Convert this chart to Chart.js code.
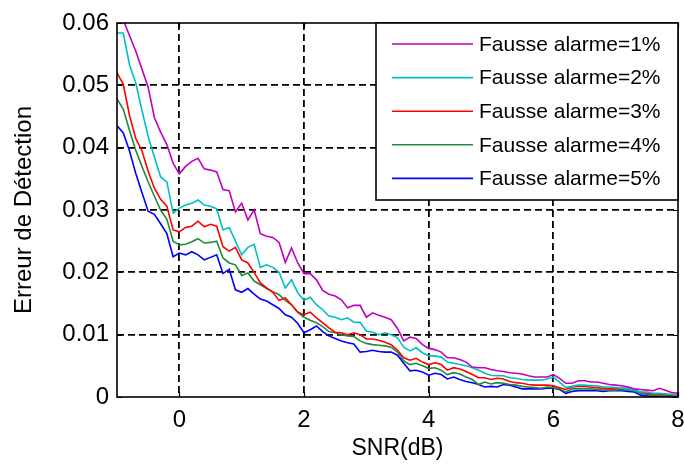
<!DOCTYPE html>
<html>
<head>
<meta charset="utf-8">
<script src="https://cdn.jsdelivr.net/npm/chart.js@4.4.1/dist/chart.umd.min.js"></script>
<style>
  html, body { margin: 0; padding: 0; background: #ffffff; }
  canvas { display: block; }
</style>
</head>
<body>
<canvas id="c" width="684" height="468"></canvas>
<script>
// ---- data ----
const snr = [
  -1.0,-0.9,-0.8,-0.7,-0.6,-0.5,-0.4,-0.3,-0.2,-0.1,
   0.0, 0.1, 0.2, 0.3, 0.4, 0.5, 0.6, 0.7, 0.8, 0.9,
   1.0, 1.1, 1.2, 1.3, 1.4, 1.5, 1.6, 1.7, 1.8, 1.9,
   2.0, 2.1, 2.2, 2.3, 2.4, 2.5, 2.6, 2.7, 2.8, 2.9,
   3.0, 3.1, 3.2, 3.3, 3.4, 3.5, 3.6, 3.7, 3.8, 3.9,
   4.0, 4.1, 4.2, 4.3, 4.4, 4.5, 4.6, 4.7, 4.8, 4.9,
   5.0, 5.1, 5.2, 5.3, 5.4, 5.5, 5.6, 5.7, 5.8, 5.9,
   6.0, 6.1, 6.2, 6.3, 6.4, 6.5, 6.6, 6.7, 6.8, 6.9,
   7.0, 7.1, 7.2, 7.3, 7.4, 7.5, 7.6, 7.7, 7.8, 7.9,
   8.0
];
const pfa1 = [
  0.0635,0.0605,0.0580,0.0555,0.0526,0.0497,0.0448,0.0425,0.0405,0.0375,
  0.0358,0.0370,0.0378,0.0383,0.0366,0.0364,0.0361,0.0333,0.0331,0.0297,
  0.0311,0.0284,0.0300,0.0262,0.0258,0.0256,0.0248,0.0216,0.0239,0.0215,
  0.0198,0.0198,0.0188,0.0171,0.0165,0.0162,0.0156,0.0143,0.0147,0.0147,
  0.0128,0.0135,0.0131,0.0128,0.0124,0.0110,0.0090,0.0096,0.0094,0.0084,
  0.0078,0.0076,0.0072,0.0063,0.0063,0.0060,0.0056,0.0048,0.0047,0.0047,
  0.0044,0.0042,0.0041,0.0039,0.0038,0.0037,0.0034,0.0032,0.0032,0.0032,
  0.0036,0.0030,0.0022,0.0022,0.0026,0.0026,0.0024,0.0024,0.0022,0.0020,
  0.0019,0.0018,0.0016,0.0013,0.0012,0.0011,0.0010,0.0014,0.0011,0.0007,
  0.0006
];
const pfa2 = [
  0.0584,0.0584,0.0533,0.0504,0.0460,0.0418,0.0385,0.0353,0.0345,0.0295,
  0.0303,0.0308,0.0311,0.0316,0.0308,0.0306,0.0302,0.0268,0.0272,0.0250,
  0.0228,0.0240,0.0245,0.0208,0.0212,0.0208,0.0200,0.0175,0.0188,0.0167,
  0.0155,0.0160,0.0148,0.0140,0.0130,0.0128,0.0124,0.0127,0.0120,0.0120,
  0.0106,0.0104,0.0100,0.0103,0.0100,0.0095,0.0080,0.0074,0.0079,0.0071,
  0.0066,0.0066,0.0064,0.0056,0.0054,0.0052,0.0050,0.0047,0.0043,0.0038,
  0.0035,0.0034,0.0034,0.0031,0.0030,0.0028,0.0027,0.0027,0.0027,0.0029,
  0.0032,0.0024,0.0015,0.0017,0.0019,0.0019,0.0018,0.0018,0.0016,0.0016,
  0.0015,0.0014,0.0013,0.0011,0.0008,0.0008,0.0006,0.0006,0.0005,0.0004,
  0.0003
];
const pfa3 = [
  0.0520,0.0502,0.0452,0.0415,0.0395,0.0362,0.0335,0.0317,0.0306,0.0268,
  0.0265,0.0272,0.0274,0.0282,0.0273,0.0277,0.0274,0.0241,0.0234,0.0240,
  0.0220,0.0215,0.0200,0.0183,0.0175,0.0168,0.0155,0.0159,0.0148,0.0136,
  0.0132,0.0136,0.0127,0.0119,0.0111,0.0104,0.0103,0.0100,0.0103,0.0100,
  0.0093,0.0093,0.0091,0.0088,0.0084,0.0075,0.0063,0.0059,0.0062,0.0056,
  0.0052,0.0055,0.0052,0.0043,0.0047,0.0045,0.0041,0.0036,0.0031,0.0031,
  0.0028,0.0030,0.0029,0.0025,0.0023,0.0022,0.0020,0.0019,0.0019,0.0019,
  0.0018,0.0015,0.0012,0.0016,0.0017,0.0017,0.0016,0.0015,0.0014,0.0013,
  0.0013,0.0014,0.0014,0.0011,0.0008,0.0006,0.0005,0.0005,0.0004,0.0003,
  0.0003
];
const pfa4 = [
  0.0478,0.0462,0.0428,0.0396,0.0370,0.0345,0.0322,0.0300,0.0285,0.0250,
  0.0244,0.0245,0.0249,0.0254,0.0247,0.0248,0.0250,0.0223,0.0215,0.0212,
  0.0195,0.0199,0.0186,0.0180,0.0174,0.0169,0.0164,0.0155,0.0148,0.0136,
  0.0128,0.0123,0.0119,0.0113,0.0105,0.0103,0.0100,0.0098,0.0097,0.0090,
  0.0086,0.0084,0.0083,0.0082,0.0080,0.0072,0.0058,0.0052,0.0054,0.0050,
  0.0046,0.0047,0.0043,0.0036,0.0039,0.0037,0.0032,0.0028,0.0020,0.0024,
  0.0021,0.0023,0.0022,0.0020,0.0019,0.0017,0.0016,0.0015,0.0014,0.0016,
  0.0015,0.0013,0.0008,0.0013,0.0013,0.0013,0.0013,0.0012,0.0011,0.0011,
  0.0011,0.0012,0.0011,0.0010,0.0006,0.0004,0.0003,0.0003,0.0002,0.0002,
  0.0002
];
const pfa5 = [
  0.0435,0.0424,0.0395,0.0359,0.0328,0.0298,0.0293,0.0278,0.0262,0.0225,
  0.0231,0.0228,0.0233,0.0228,0.0220,0.0224,0.0228,0.0198,0.0205,0.0172,
  0.0168,0.0174,0.0165,0.0157,0.0154,0.0148,0.0142,0.0132,0.0128,0.0118,
  0.0103,0.0108,0.0114,0.0105,0.0098,0.0094,0.0090,0.0087,0.0085,0.0072,
  0.0073,0.0075,0.0073,0.0072,0.0072,0.0067,0.0054,0.0042,0.0043,0.0040,
  0.0035,0.0038,0.0036,0.0029,0.0032,0.0028,0.0025,0.0023,0.0020,0.0016,
  0.0017,0.0016,0.0020,0.0019,0.0016,0.0013,0.0013,0.0013,0.0013,0.0014,
  0.0014,0.0012,0.0006,0.0009,0.0010,0.0010,0.0010,0.0010,0.0009,0.0010,
  0.0010,0.0010,0.0009,0.0008,0.0003,0.0002,0.0001,0.0000,0.0000,0.0000,
  0.0000
];
const seriesLabels = ["Fausse alarme=1%","Fausse alarme=2%","Fausse alarme=3%","Fausse alarme=4%","Fausse alarme=5%"];
const xTicks = [0, 2, 4, 6, 8];
const yTicks = [0, 0.01, 0.02, 0.03, 0.04, 0.05, 0.06];
const xTitle = "SNR(dB)";
const yTitle = "Erreur de Détection";

// ---- styling ----
const FAMILY = "'Liberation Sans', Arial, sans-serif";
const colors = ["#c000c0", "#00c0c0", "#ff0000", "#208a40", "#0000ff"];
const allSeries = [pfa1, pfa2, pfa3, pfa4, pfa5];

const datasets = allSeries.map((arr, k) => ({
  label: seriesLabels[k],
  data: snr.map((x, i) => ({ x: x, y: arr[i] })),
  borderColor: colors[k],
  backgroundColor: colors[k],
  borderWidth: 1.6,
  pointRadius: 0,
  tension: 0,
  fill: false
}));

const frameAndLegend = {
  id: 'frameAndLegend',
  afterDatasetsDraw(chart) {
    const ctx = chart.ctx;
    const a = chart.chartArea;
    const xs = chart.scales.x, ys = chart.scales.y;
    ctx.save();
    // box
    ctx.strokeStyle = '#000';
    ctx.lineWidth = 1.6;
    ctx.setLineDash([]);
    ctx.strokeRect(a.left, a.top, a.right - a.left, a.bottom - a.top);
    // inward ticks
    ctx.lineWidth = 1.2;
    const tl = 5;
    ctx.beginPath();
    xTicks.forEach(v => {
      const p = Math.round(xs.getPixelForValue(v)) + 0.5;
      ctx.moveTo(p, a.bottom); ctx.lineTo(p, a.bottom - tl);
      ctx.moveTo(p, a.top); ctx.lineTo(p, a.top + tl);
    });
    yTicks.forEach(v => {
      const p = Math.round(ys.getPixelForValue(v)) + 0.5;
      ctx.moveTo(a.left, p); ctx.lineTo(a.left + tl, p);
      ctx.moveTo(a.right, p); ctx.lineTo(a.right - tl, p);
    });
    ctx.stroke();
    // legend
    const bw = 302, bh = 177;
    const bx = a.right - bw, by = a.top;
    ctx.fillStyle = '#fff';
    ctx.fillRect(bx, by, bw, bh);
    ctx.lineWidth = 1.6;
    ctx.strokeStyle = '#000';
    ctx.strokeRect(bx, by, bw, bh);
    ctx.font = "21px " + FAMILY;
    ctx.textBaseline = 'middle';
    ctx.textAlign = 'left';
    chart.data.datasets.forEach((ds, i) => {
      const yy = by + 21 + i * 33.6;
      ctx.strokeStyle = ds.borderColor;
      ctx.lineWidth = 1.6;
      ctx.beginPath();
      ctx.moveTo(bx + 16, yy); ctx.lineTo(bx + 97, yy);
      ctx.stroke();
      ctx.fillStyle = '#000';
      ctx.fillText(ds.label, bx + 103, yy + 1);
    });
    ctx.restore();
  }
};

new Chart(document.getElementById('c'), {
  type: 'line',
  data: { datasets: datasets },
  plugins: [frameAndLegend],
  options: {
    responsive: false,
    animation: false,
    events: [],
    layout: { padding: { top: 23, right: 6, left: 0, bottom: 0 } },
    plugins: { legend: { display: false }, tooltip: { enabled: false } },
    scales: {
      x: {
        type: 'linear', min: -1, max: 8,
        afterBuildTicks: s => { s.ticks = xTicks.map(v => ({ value: v })); },
        afterFit: s => { s.height = 71; s.paddingLeft = 0; s.paddingRight = 0; },
        grid: {
          drawTicks: false, lineWidth: 1.8,
          color: c => (c.tick && c.tick.value === 8) ? 'rgba(0,0,0,0)' : '#000'
        },
        border: { display: false, dash: [7, 4] },
        ticks: {
          padding: 9, color: '#000', maxRotation: 0, autoSkip: false,
          font: { size: 24, family: FAMILY },
          callback: v => String(v)
        },
        title: {
          display: true, text: xTitle, color: '#000',
          font: { size: 23, family: FAMILY },
          padding: { top: 0, bottom: 6 }
        }
      },
      y: {
        type: 'linear', min: 0, max: 0.06,
        afterBuildTicks: s => { s.ticks = yTicks.map(v => ({ value: v })); },
        afterFit: s => { s.width = 117; s.paddingTop = 0; s.paddingBottom = 0; },
        grid: {
          drawTicks: false, lineWidth: 1.8,
          color: c => (c.tick && (c.tick.value === 0 || c.tick.value === 0.06)) ? 'rgba(0,0,0,0)' : '#000'
        },
        border: { display: false, dash: [7, 4] },
        ticks: {
          padding: 8, color: '#000',
          font: { size: 24, family: FAMILY },
          callback: v => String(Number(v.toFixed(2)))
        },
        title: {
          display: true, text: yTitle, color: '#000',
          font: { size: 24, family: FAMILY },
          padding: { top: 10, bottom: 0 }
        }
      }
    }
  }
});
</script>
</body>
</html>
